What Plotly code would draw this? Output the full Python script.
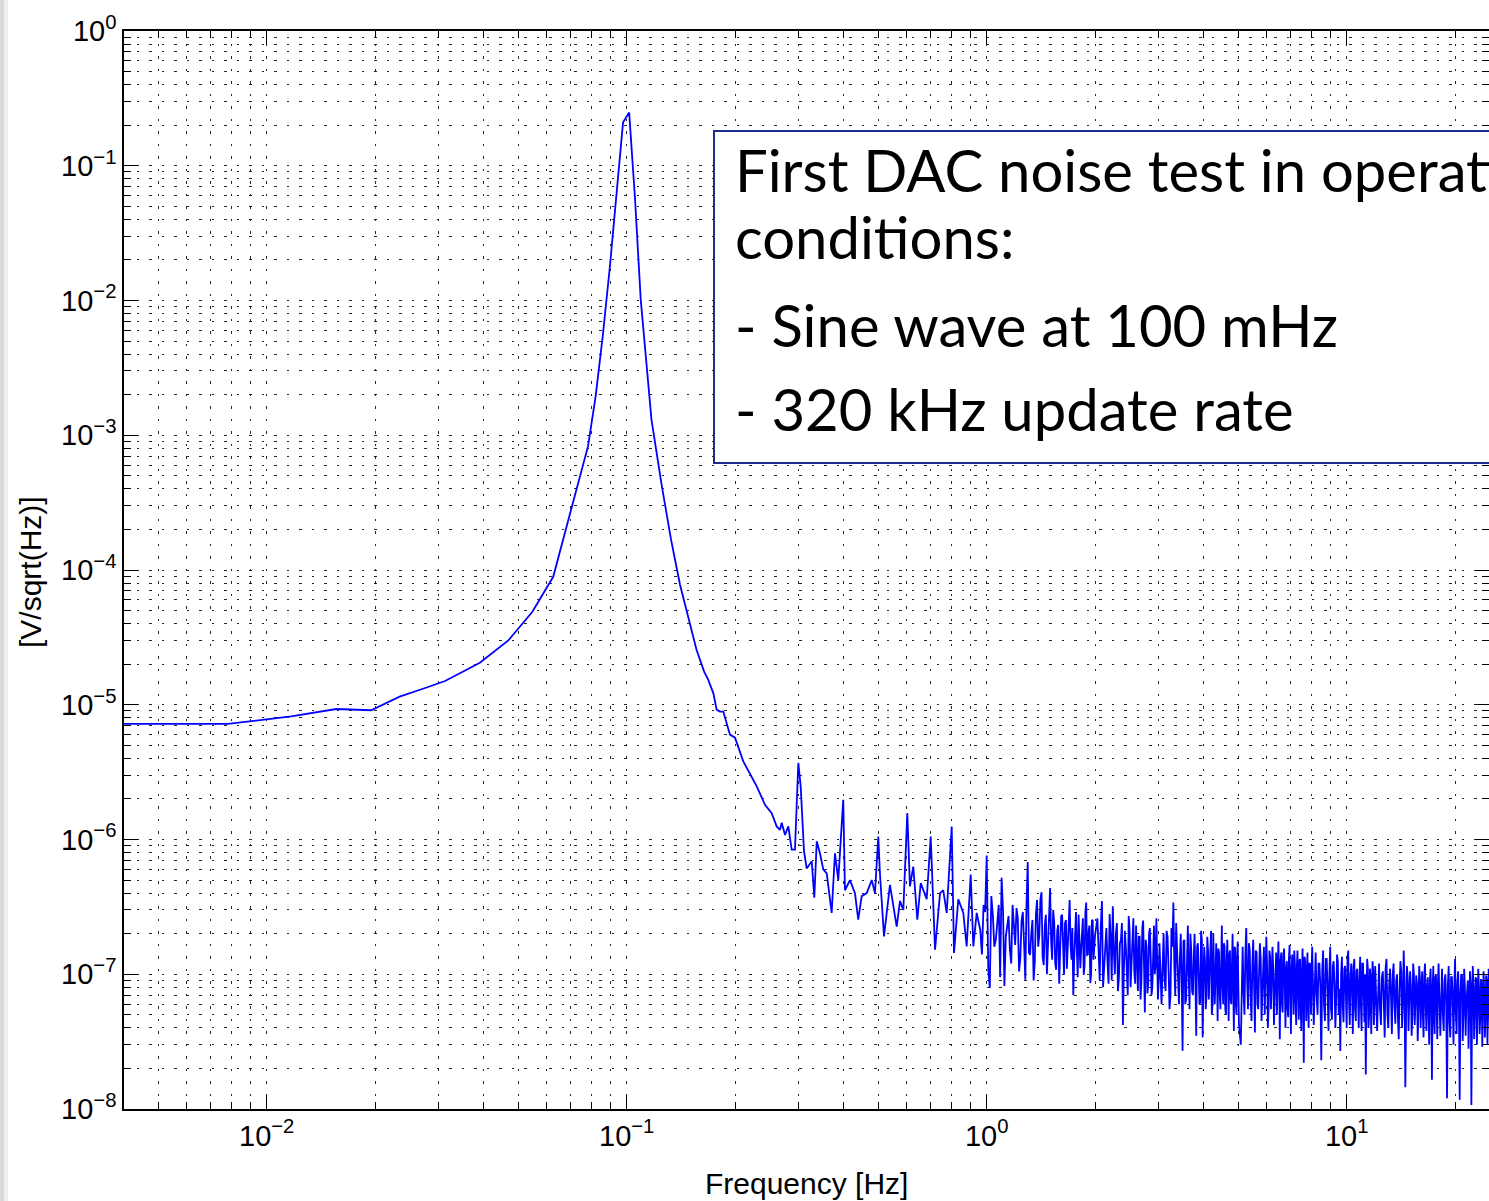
import plotly.graph_objects as go

# ---------------- data ----------------
# Low-frequency floor and the 100 mHz sine line  [Hz], [V/sqrt(Hz)]
freq_peak = [0.0039, 0.0078, 0.0117, 0.0156, 0.0195, 0.0234, 0.0273, 0.0313, 0.0391, 0.0469,
             0.0547, 0.0625, 0.0703, 0.0742, 0.0781, 0.0820, 0.0859, 0.0898, 0.0938, 0.0977,
             0.1016, 0.1055, 0.1094, 0.1133, 0.1172, 0.1250, 0.1328, 0.1406, 0.1484, 0.1563,
             0.1641]
asd_peak = [7.2e-6, 7.2e-6, 8.2e-6, 9.3e-6, 9.1e-6, 1.15e-5, 1.32e-5, 1.5e-5, 2.05e-5, 3.0e-5,
            4.9e-5, 8.9e-5, 2.9e-4, 5.0e-4, 8.3e-4, 1.95e-3, 5.6e-3, 1.78e-2, 6.3e-2, 0.21,
            0.248, 5.6e-2, 1.01e-2, 3.3e-3, 1.3e-3, 4.3e-4, 1.68e-4, 7.8e-5, 4.3e-5, 2.56e-5,
            1.76e-5]

# Tail of the line and the harmonics region (0.17 - 0.94 Hz)
freq_mid = [0.1685, 0.1740, 0.1778, 0.1816, 0.1855, 0.1936, 0.1999, 0.2108, 0.2297, 0.2422,
            0.2528, 0.2610, 0.2666, 0.2695, 0.2753, 0.2811, 0.2873, 0.2934, 0.2997, 0.3043,
            0.3108, 0.3162, 0.3266, 0.3320, 0.3372, 0.3442, 0.3516, 0.3594, 0.3710, 0.3789,
            0.3870, 0.3995, 0.4039, 0.4170, 0.4306, 0.4397, 0.4496, 0.4642, 0.4794, 0.4893,
            0.4999, 0.5052, 0.5185, 0.5386, 0.5623, 0.5744, 0.5866, 0.6018, 0.6121, 0.6253,
            0.6416, 0.6558, 0.6813, 0.6990, 0.7108, 0.7186, 0.7420, 0.7575, 0.7743, 0.7995,
            0.8113, 0.8339, 0.8610, 0.8798, 0.9028, 0.9180, 0.9380]
asd_mid = [1.53e-5, 1.22e-5, 9.2e-6, 8.9e-6, 8.9e-6, 6.0e-6, 5.7e-6, 3.8e-6, 2.48e-6, 1.81e-6,
           1.57e-6, 1.25e-6, 1.18e-6, 1.33e-6, 1.08e-6, 1.25e-6, 8.4e-7, 8.4e-7, 3.7e-6, 2.48e-6,
           8.2e-7, 6.1e-7, 6.9e-7, 3.7e-7, 9.7e-7, 7.9e-7, 6.0e-7, 5.6e-7, 2.85e-7, 7.9e-7,
           5.0e-7, 1.97e-6, 4.2e-7, 5.0e-7, 4.0e-7, 2.54e-7, 3.8e-7, 4.0e-7, 5.0e-7, 4.0e-7,
           1.05e-6, 5.6e-7, 1.91e-7, 4.6e-7, 2.26e-7, 3.5e-7, 3.0e-7, 1.57e-6, 4.5e-7, 6.3e-7,
           2.54e-7, 4.75e-7, 3.6e-7, 1.05e-6, 2.85e-7, 1.52e-7, 4.0e-7, 4.2e-7, 2.85e-7, 1.25e-6,
           1.44e-7, 3.6e-7, 2.85e-7, 1.61e-7, 5.5e-7, 1.61e-7, 2.85e-7]

# Broadband noise floor above 1 Hz, values in units of 1e-7 V/sqrt(Hz)
freq_a = [0.96, 0.98, 1.00, 1.02, 1.04, 1.06, 1.08, 1.10, 1.12, 1.14, 1.16, 1.18, 1.20, 1.22,
          1.24, 1.26, 1.28, 1.30, 1.32, 1.34, 1.36, 1.38, 1.40, 1.42, 1.44, 1.46, 1.48, 1.50,
          1.52, 1.54, 1.56, 1.58, 1.60, 1.62, 1.64, 1.66, 1.68, 1.70, 1.72, 1.74, 1.76, 1.78,
          1.80, 1.82, 1.84, 1.86, 1.88, 1.90, 1.92, 1.94, 1.96, 1.98, 2.00]
asd_a_e7 = [2.13, 3.27, 7.6, 0.79, 2.76, 1.80, 3.27, 5.2, 0.82, 2.32, 1.51, 3.27, 1.65, 2.62,
            1.32, 2.90, 0.91, 6.8, 1.39, 2.53, 1.23, 3.56, 1.95, 4.06, 1.17, 2.76, 1.80, 4.37,
            1.28, 2.44, 1.08, 2.32, 1.39, 2.76, 0.99, 2.53, 1.65, 3.56, 1.28, 0.70, 2.13, 1.51,
            2.76, 1.11, 2.32, 0.99, 2.90, 1.39, 2.13, 0.86, 2.53, 1.28, 1.95]
freq_a2 = [0.97, 0.99, 1.01, 1.03, 1.05, 1.07, 1.09, 1.11, 1.13, 1.15, 1.17, 1.19, 1.21, 1.23,
           1.25, 1.27, 1.29, 1.31, 1.33, 1.35, 1.37, 1.39, 1.41, 1.43, 1.45, 1.47, 1.49, 1.51,
           1.53, 1.55, 1.57, 1.59, 1.61, 1.63, 1.65, 1.67, 1.69, 1.71, 1.73, 1.75, 1.77, 1.79,
           1.81, 1.83, 1.85, 1.87, 1.89, 1.91, 1.93, 1.95, 1.97, 1.99]
asd_a2_e7 = [1.4, 2.9, 1.1, 3.8, 1.6, 2.4, 0.95, 3.0, 1.9, 2.7, 1.2, 2.2, 3.1, 1.05, 2.5, 1.7,
             3.3, 1.45, 2.0, 0.9, 2.8, 1.6, 3.6, 1.35, 2.3, 1.0, 2.6, 1.75, 3.0, 1.2, 2.1, 0.85,
             2.7, 1.5, 2.4, 1.1, 3.2, 1.65, 2.2, 1.3, 2.9, 0.95, 2.0, 1.55, 2.6, 1.15, 3.4, 1.4,
             2.3, 1.0, 2.5, 1.7]

freq_b = [2.03, 2.06, 2.09, 2.12, 2.15, 2.18, 2.21, 2.24, 2.27, 2.30, 2.33, 2.36, 2.39, 2.42,
          2.45, 2.48, 2.51, 2.54, 2.57, 2.60, 2.63, 2.66, 2.69, 2.72, 2.75, 2.78, 2.81, 2.84,
          2.87, 2.90, 2.93, 2.96, 2.99, 3.02]
asd_b_e7 = [2.6, 0.9, 3.5, 1.2, 2.2, 0.85, 1.9, 3.2, 1.0, 2.4, 0.95, 1.8, 0.42, 2.1, 1.1, 2.7,
            0.8, 1.7, 1.05, 2.3, 0.75, 1.9, 0.9, 2.5, 0.52, 1.6, 0.85, 2.2, 0.7, 1.8, 1.0, 2.6,
            0.65, 1.7]
freq_b2 = [2.045, 2.075, 2.105, 2.135, 2.165, 2.195, 2.225, 2.255, 2.285, 2.315, 2.345, 2.375,
           2.405, 2.435, 2.465, 2.495, 2.525, 2.555, 2.585, 2.615, 2.645, 2.675, 2.705, 2.735,
           2.765, 2.795, 2.825, 2.855, 2.885, 2.915, 2.945, 2.975, 3.005]
asd_b2_e7 = [1.3, 2.3, 0.8, 1.9, 1.25, 2.8, 0.9, 1.5, 2.0, 0.75, 1.7, 2.4, 1.1, 1.6, 0.7, 2.1,
             1.3, 2.6, 0.85, 1.45, 1.9, 0.65, 2.2, 1.2, 1.8, 0.72, 2.0, 1.35, 0.8, 2.3, 1.15,
             1.6, 0.9]

freq_c = [3.06, 3.10, 3.14, 3.18, 3.22, 3.26, 3.30, 3.34, 3.38, 3.42, 3.46, 3.50, 3.54, 3.58,
          3.62, 3.66, 3.70, 3.74, 3.78, 3.82, 3.86, 3.90, 3.94, 3.98, 4.02, 4.06, 4.10, 4.14,
          4.18, 4.22, 4.26, 4.30, 4.34, 4.38, 4.42, 4.46, 4.50, 4.54, 4.58, 4.62, 4.66, 4.70,
          4.74, 4.78, 4.82, 4.86, 4.90, 4.94, 4.98, 5.02]
asd_c_e7 = [0.6, 2.0, 0.75, 1.9, 0.55, 2.2, 3.4, 0.7, 1.6, 0.6, 2.0, 0.27, 1.8, 0.65, 2.3, 0.55,
            1.5, 0.7, 2.0, 0.35, 1.7, 0.6, 2.1, 0.34, 1.6, 0.55, 1.9, 0.65, 1.5, 0.5, 2.0, 0.6,
            1.7, 0.45, 1.45, 0.55, 2.3, 0.6, 1.6, 0.5, 1.8, 0.45, 1.5, 0.6, 2.0, 0.38, 1.55, 0.5,
            1.75, 0.42]
freq_c2 = [3.08, 3.12, 3.16, 3.20, 3.24, 3.28, 3.32, 3.36, 3.40, 3.44, 3.48, 3.52, 3.56, 3.60,
           3.64, 3.68, 3.72, 3.76, 3.80, 3.84, 3.88, 3.92, 3.96, 4.00, 4.04, 4.08, 4.12, 4.16,
           4.20, 4.24, 4.28, 4.32, 4.36, 4.40, 4.44, 4.48, 4.52, 4.56, 4.60, 4.64, 4.68, 4.72,
           4.76, 4.80, 4.84, 4.88, 4.92, 4.96, 5.00]
asd_c2_e7 = [1.4, 0.9, 2.1, 1.1, 0.7, 1.6, 1.2, 2.4, 0.8, 1.3, 0.95, 1.75, 0.6, 1.2, 1.0, 2.0,
             0.75, 1.35, 0.9, 1.6, 1.05, 0.62, 1.8, 0.85, 1.25, 0.7, 1.5, 1.0, 2.1, 0.6, 1.3, 0.9,
             1.2, 1.55, 0.7, 1.1, 0.85, 1.7, 0.55, 1.25, 0.95, 1.4, 0.65, 1.15, 0.8, 1.6, 0.6,
             1.3, 0.85]

freq_d = [5.08, 5.14, 5.20, 5.26, 5.32, 5.38, 5.44, 5.50, 5.56, 5.62, 5.68, 5.74, 5.80, 5.86,
          5.92, 5.98, 6.04, 6.10, 6.16, 6.22, 6.28, 6.34, 6.40, 6.46, 6.52, 6.58, 6.64, 6.70,
          6.76, 6.82, 6.88, 6.94, 7.00, 7.06, 7.12, 7.18, 7.24, 7.30, 7.36, 7.42, 7.48, 7.54,
          7.60, 7.66, 7.72, 7.78, 7.84, 7.90, 7.96, 8.02]
asd_d_e7 = [0.30, 1.6, 0.5, 2.2, 0.55, 1.5, 0.45, 1.8, 0.37, 1.45, 0.55, 1.7, 0.45, 1.35, 0.5,
            1.9, 0.4, 1.5, 0.55, 1.6, 0.42, 1.3, 0.5, 1.75, 0.33, 1.45, 0.52, 1.55, 0.4, 1.25,
            0.48, 1.65, 0.36, 1.4, 0.5, 1.2, 0.42, 1.5, 0.46, 1.3, 0.38, 1.55, 0.22, 1.3, 0.45,
            1.45, 0.4, 1.2, 0.5, 1.6]
freq_d2 = [5.11, 5.17, 5.23, 5.29, 5.35, 5.41, 5.47, 5.53, 5.59, 5.65, 5.71, 5.77, 5.83, 5.89,
           5.95, 6.01, 6.07, 6.13, 6.19, 6.25, 6.31, 6.37, 6.43, 6.49, 6.55, 6.61, 6.67, 6.73,
           6.79, 6.85, 6.91, 6.97, 7.03, 7.09, 7.15, 7.21, 7.27, 7.33, 7.39, 7.45, 7.51, 7.57,
           7.63, 7.69, 7.75, 7.81, 7.87, 7.93, 7.99]
asd_d2_e7 = [1.1, 0.75, 1.4, 0.9, 1.7, 0.65, 1.2, 0.85, 1.5, 0.6, 1.05, 1.3, 0.7, 1.6, 0.8, 1.15,
             0.58, 1.35, 0.9, 1.1, 0.68, 1.45, 0.78, 1.0, 1.25, 0.6, 1.4, 0.85, 1.1, 0.55, 1.3,
             0.75, 1.05, 0.9, 1.5, 0.62, 1.15, 0.8, 1.25, 0.58, 1.0, 0.72, 1.35, 0.85, 1.05, 0.6,
             1.2, 0.78, 1.1]

freq_e = [8.1, 8.2, 8.3, 8.4, 8.5, 8.6, 8.7, 8.8, 8.9, 9.0, 9.1, 9.2, 9.3, 9.4, 9.5, 9.6, 9.7,
          9.8, 9.9, 10.0, 10.1, 10.2, 10.3, 10.4, 10.5, 10.6, 10.7, 10.8, 10.9, 11.0, 11.1, 11.2,
          11.3, 11.4, 11.5, 11.6, 11.7, 11.8, 11.9, 12.0]
asd_e_e7 = [0.42, 1.45, 0.5, 1.2, 0.23, 1.5, 0.45, 1.3, 0.38, 1.6, 0.46, 1.25, 0.4, 1.4, 0.5,
            0.27, 1.35, 0.44, 1.15, 0.4, 1.5, 0.42, 1.2, 0.36, 1.3, 0.45, 1.1, 0.4, 1.35, 0.38,
            1.2, 0.44, 0.18, 1.3, 0.4, 1.1, 0.36, 1.25, 0.42, 1.15]
freq_e2 = [8.15, 8.25, 8.35, 8.45, 8.55, 8.65, 8.75, 8.85, 8.95, 9.05, 9.15, 9.25, 9.35, 9.45,
           9.55, 9.65, 9.75, 9.85, 9.95, 10.05, 10.15, 10.25, 10.35, 10.45, 10.55, 10.65, 10.75,
           10.85, 10.95, 11.05, 11.15, 11.25, 11.35, 11.45, 11.55, 11.65, 11.75, 11.85, 11.95]
asd_e2_e7 = [0.95, 0.7, 1.2, 0.8, 1.05, 0.6, 1.3, 0.75, 1.0, 0.55, 1.15, 0.85, 0.65, 1.25, 0.78,
             1.0, 0.58, 1.1, 0.7, 1.3, 0.62, 0.95, 0.8, 1.15, 0.55, 1.05, 0.72, 0.9, 0.6, 1.2,
             0.75, 1.0, 0.65, 1.1, 0.52, 0.95, 0.78, 1.05, 0.62]

freq_f = [12.15, 12.3, 12.45, 12.6, 12.75, 12.9, 13.05, 13.2, 13.35, 13.5, 13.65, 13.8, 13.95,
          14.1, 14.25, 14.4, 14.55, 14.7, 14.85, 15.0, 15.15, 15.3, 15.45, 15.6, 15.75, 15.9,
          16.05, 16.2, 16.35, 16.5, 16.65, 16.8, 16.95, 17.1, 17.25, 17.4, 17.55, 17.7, 17.85,
          18.0]
asd_f_e7 = [0.38, 1.2, 0.42, 1.05, 0.34, 1.3, 0.4, 1.1, 0.36, 1.2, 0.43, 1.0, 0.33, 1.25, 0.4,
            1.5, 0.145, 1.15, 0.38, 1.05, 0.35, 1.2, 0.42, 0.98, 0.32, 1.15, 0.4, 1.05, 0.34, 1.2,
            0.38, 0.95, 0.3, 1.1, 0.165, 1.15, 0.36, 1.0, 0.33, 1.2]
freq_f2 = [12.225, 12.375, 12.525, 12.675, 12.825, 12.975, 13.125, 13.275, 13.425, 13.575,
           13.725, 13.875, 14.025, 14.175, 14.325, 14.475, 14.625, 14.775, 14.925, 15.075,
           15.225, 15.375, 15.525, 15.675, 15.825, 15.975, 16.125, 16.275, 16.425, 16.575,
           16.725, 16.875, 17.025, 17.175, 17.325, 17.475, 17.625, 17.775, 17.925]
asd_f2_e7 = [0.8, 0.55, 0.95, 0.65, 1.1, 0.5, 0.85, 0.7, 1.0, 0.58, 0.9, 0.48, 0.78, 1.05, 0.6,
             0.88, 0.52, 0.95, 0.68, 0.82, 0.5, 1.0, 0.62, 0.85, 0.55, 0.92, 0.7, 0.5, 0.98, 0.6,
             0.8, 0.52, 0.9, 0.65, 0.75, 0.48, 0.95, 0.58, 0.85]

freq_g = [18.2, 18.4, 18.6, 18.8, 19.0, 19.2, 19.4, 19.6, 19.8, 20.0, 20.2, 20.4, 20.6, 20.8,
          21.0, 21.2, 21.4, 21.6, 21.8, 22.0, 22.2, 22.4, 22.6, 22.8, 23.0, 23.2, 23.4, 23.6,
          23.8, 24.0, 24.2, 24.4, 24.6, 24.8, 25.0]
asd_g_e7 = [0.35, 1.1, 0.38, 1.0, 0.12, 1.15, 0.34, 0.95, 0.3, 1.3, 0.36, 1.05, 0.117, 1.0, 0.32,
            1.1, 0.35, 0.9, 0.28, 1.05, 0.107, 1.15, 0.33, 0.95, 0.3, 1.1, 0.36, 0.92, 0.29, 1.05,
            0.34, 0.98, 0.3, 1.1, 0.35]
freq_g2 = [18.3, 18.5, 18.7, 18.9, 19.1, 19.3, 19.5, 19.7, 19.9, 20.1, 20.3, 20.5, 20.7, 20.9,
           21.1, 21.3, 21.5, 21.7, 21.9, 22.1, 22.3, 22.5, 22.7, 22.9, 23.1, 23.3, 23.5, 23.7,
           23.9, 24.1, 24.3, 24.5, 24.7, 24.9]
asd_g2_e7 = [0.75, 0.5, 0.9, 0.6, 0.82, 0.45, 0.95, 0.65, 0.78, 0.52, 0.88, 0.58, 0.72, 0.98, 0.5,
             0.8, 0.62, 0.9, 0.47, 0.85, 0.6, 0.75, 0.52, 0.92, 0.66, 0.8, 0.48, 0.86, 0.58, 0.76,
             0.5, 0.9, 0.62, 0.8]

# Axis tick labels
x_tick_vals = [0.01, 0.1, 1, 10]
x_tick_text = ["10<sup>\u22122</sup>", "10<sup>\u22121</sup>", "10<sup>0</sup>", "10<sup>1</sup>"]
y_tick_vals = [1e-8, 1e-7, 1e-6, 1e-5, 1e-4, 1e-3, 1e-2, 1e-1, 1]
y_tick_text = ["10<sup>\u22128</sup>", "10<sup>\u22127</sup>", "10<sup>\u22126</sup>",
               "10<sup>\u22125</sup>", "10<sup>\u22124</sup>", "10<sup>\u22123</sup>",
               "10<sup>\u22122</sup>", "10<sup>\u22121</sup>", "10<sup>0</sup>"]

note_lines = ["First DAC noise test in operating", "conditions:",
              "- Sine wave at 100 mHz", "- 320 kHz update rate"]

# ---------------- assemble the series ----------------
hf_pairs = [(freq_a, asd_a_e7), (freq_a2, asd_a2_e7), (freq_b, asd_b_e7), (freq_b2, asd_b2_e7),
            (freq_c, asd_c_e7), (freq_c2, asd_c2_e7), (freq_d, asd_d_e7), (freq_d2, asd_d2_e7),
            (freq_e, asd_e_e7), (freq_e2, asd_e2_e7), (freq_f, asd_f_e7), (freq_f2, asd_f2_e7),
            (freq_g, asd_g_e7), (freq_g2, asd_g2_e7)]
assert len(freq_peak) == len(asd_peak) and len(freq_mid) == len(asd_mid)
hf = []
for fs, vs in hf_pairs:
    assert len(fs) == len(vs), (len(fs), len(vs))
    hf += [(f, v * 1e-7) for f, v in zip(fs, vs)]
hf.sort()
freq = list(freq_peak) + list(freq_mid) + [p[0] for p in hf]
asd = list(asd_peak) + list(asd_mid) + [p[1] for p in hf]

# minor tick / grid positions (2..9 in every decade)
minor_x = [m * 10.0 ** e for e in range(-3, 2) for m in range(2, 10)]
minor_y = [m * 10.0 ** e for e in range(-8, 0) for m in range(2, 10)]

# ---------------- figure ----------------
W, H = 1489, 1201
L, R, T, B = 124, 0, 31, 92
PW, PH = W - L - R, H - T - B


def px_x(px):
    return (px - L) / PW


def px_y(py):
    return (H - B - py) / PH


fig = go.Figure()
fig.add_trace(go.Scatter(x=freq, y=asd, mode="lines",
                         line=dict(color="#0000ff", width=1.8),
                         showlegend=False, hoverinfo="skip"))
fig.add_trace(go.Scatter(x=[], y=[], yaxis="y2", showlegend=False, hoverinfo="skip"))

grid = dict(gridcolor="rgba(0,0,0,0.85)", gridwidth=1, griddash="2.5px,10px")

fig.update_layout(
    width=W, height=H,
    margin=dict(l=L, r=R, t=T, b=B, pad=0),
    paper_bgcolor="white", plot_bgcolor="white",
    font=dict(family="Liberation Sans, Arial, sans-serif", size=29, color="black"),
    xaxis=dict(type="log", range=[-2.3964, 1.3953],
               tickmode="array", tickvals=x_tick_vals, ticktext=x_tick_text,
               ticks="inside", ticklen=14, tickwidth=1, tickcolor="black",
               showline=True, linecolor="black", linewidth=1.5, mirror="ticks",
               showgrid=True, zeroline=False, **grid,
               minor=dict(tickmode="array", tickvals=minor_x, ticks="inside", ticklen=7,
                          tickwidth=1, tickcolor="black", showgrid=True, **grid)),
    yaxis=dict(type="log", range=[-8, 0],
               tickmode="array", tickvals=y_tick_vals, ticktext=y_tick_text,
               ticks="inside", ticklen=14, tickwidth=1, tickcolor="black",
               showline=True, linecolor="black", linewidth=1.5, mirror=False,
               showgrid=True, zeroline=False, **grid,
               minor=dict(tickmode="array", tickvals=minor_y, ticks="inside", ticklen=7,
                          tickwidth=1, tickcolor="black", showgrid=True, **grid)),
    yaxis2=dict(type="log", range=[-8, 0], overlaying="y", side="right",
                tickmode="array", tickvals=y_tick_vals, showticklabels=False,
                ticks="inside", ticklen=14, tickwidth=1, tickcolor="black",
                showline=False, showgrid=False, zeroline=False,
                minor=dict(tickmode="array", tickvals=minor_y, ticks="inside", ticklen=7,
                           tickwidth=1, tickcolor="black", showgrid=False)),
)

shapes = [
    # slide edge shading on the far left
    dict(type="rect", xref="paper", yref="paper", x0=px_x(0), x1=px_x(4), y0=px_y(H), y1=px_y(0),
         fillcolor="#dadada", line=dict(width=0), layer="above"),
    dict(type="rect", xref="paper", yref="paper", x0=px_x(4), x1=px_x(8), y0=px_y(H), y1=px_y(0),
         fillcolor="#efefef", line=dict(width=0), layer="above"),
    # text box
    dict(type="rect", xref="paper", yref="paper", x0=px_x(714), x1=1.2, y0=px_y(463), y1=px_y(131),
         fillcolor="white", line=dict(color="#1f2c8c", width=2), layer="above"),
]
fig.update_layout(shapes=shapes)

annotations = []
note_y = [169, 236, 324, 408]
for txt, py in zip(note_lines, note_y):
    annotations.append(dict(text=txt, xref="paper", yref="paper", x=px_x(733), y=px_y(py),
                            xanchor="left", yanchor="middle", showarrow=False,
                            font=dict(family="Lato, Carlito, Calibri, sans-serif", size=58,
                                      color="black")))
annotations.append(dict(text="Frequency [Hz]", xref="paper", yref="paper", x=0.5, y=px_y(1183),
                        xanchor="center", yanchor="middle", showarrow=False,
                        font=dict(size=30)))
annotations.append(dict(text="[V/sqrt(Hz)]", xref="paper", yref="paper", x=px_x(31), y=px_y(572),
                        xanchor="center", yanchor="middle", showarrow=False, textangle=-90,
                        font=dict(size=30)))
fig.update_layout(annotations=annotations)

fig.write_html("out.html")
